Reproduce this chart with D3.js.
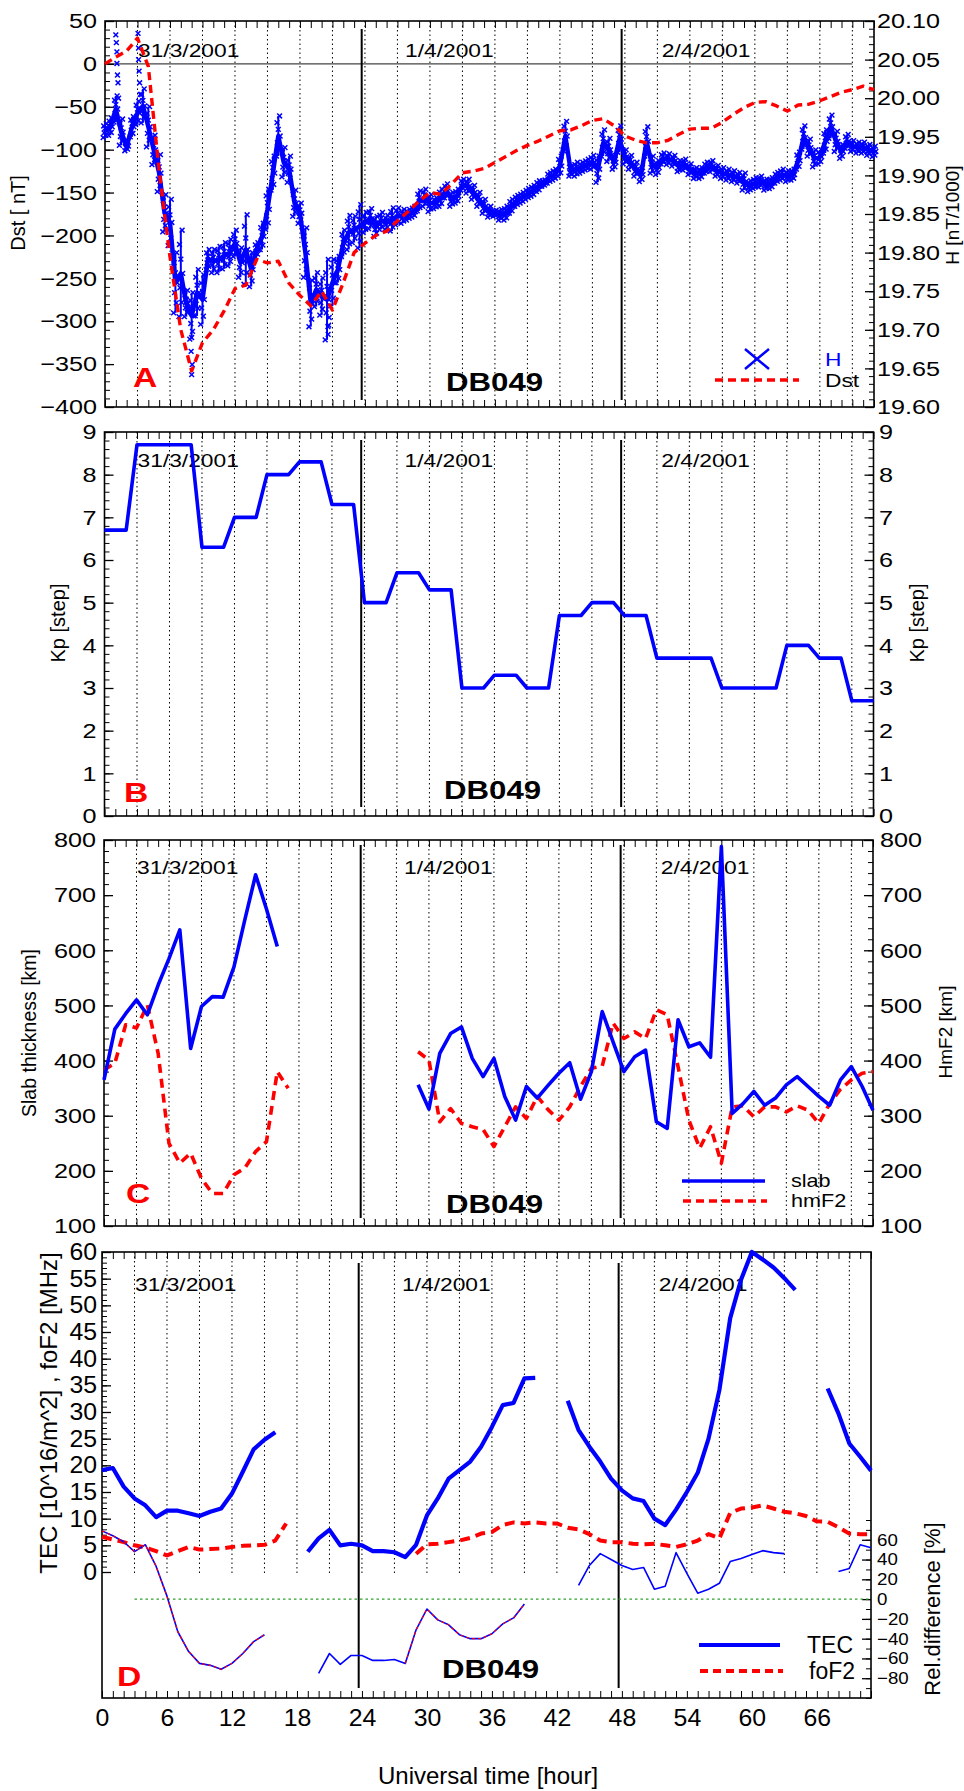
<!DOCTYPE html>
<html>
<head>
<meta charset="utf-8">
<script src="https://cdn.jsdelivr.net/npm/d3@7"></script>
<style>
  body { margin: 0; background: #fff; }
  svg { display: block; }
</style>
</head>
<body>
<div id="vis"></div>
<script>
// ---------- data ----------
const HOURS = d3.range(0, 72);            // hourly samples 0..71 UT
const H_HOURS = d3.range(0, 71.5, 0.5);   // H magnetometer samples every 0.5 h

const DST = [0, 8, 15, 30, -3, -125, -225, -310, -358, -325, -310, -288, -262, -258, -228, -232,
  -230, -256, -270, -282, -265, -287, -255, -220, -209, -200, -195, -183, -172, -160, -150, -152,
  -140, -127, -125, -122, -115, -108, -101, -95, -90, -84, -78, -77, -72, -66, -64, -72,
  -84, -89, -92, -92, -89, -82, -76, -75, -75, -68, -59, -51, -45, -44, -49, -55,
  -48, -47, -43, -38, -33, -30, -26, -30];

const H_MID = [
  19.958, 19.963, 19.986, 19.956, 19.938, 19.963, 19.981, 19.990, 19.963, 19.933,
  19.903, 19.851, 19.839, 19.761, 19.773, 19.734, 19.718, 19.748, 19.739, 19.791,
  19.789, 19.791, 19.796, 19.800, 19.812, 19.787, 19.804, 19.778, 19.804, 19.821,
  19.856, 19.903, 19.951, 19.917, 19.908, 19.864, 19.851, 19.800, 19.734, 19.752,
  19.743, 19.739, 19.761, 19.778, 19.812, 19.826, 19.830, 19.834, 19.839, 19.844,
  19.834, 19.841, 19.839, 19.843, 19.847, 19.847, 19.849, 19.853, 19.867, 19.871,
  19.864, 19.864, 19.871, 19.880, 19.869, 19.873, 19.888, 19.886, 19.878, 19.869,
  19.860, 19.853, 19.851, 19.849, 19.851, 19.860, 19.867, 19.871, 19.876, 19.880,
  19.886, 19.890, 19.897, 19.901, 19.912, 19.951, 19.906, 19.908, 19.910, 19.914,
  19.917, 19.908, 19.942, 19.933, 19.917, 19.947, 19.924, 19.917, 19.908, 19.901,
  19.944, 19.914, 19.910, 19.922, 19.921, 19.919, 19.912, 19.914, 19.908, 19.903,
  19.903, 19.910, 19.912, 19.906, 19.903, 19.901, 19.899, 19.897, 19.892, 19.886,
  19.890, 19.892, 19.888, 19.890, 19.897, 19.901, 19.899, 19.901, 19.919, 19.949,
  19.936, 19.922, 19.924, 19.944, 19.963, 19.944, 19.931, 19.944, 19.938, 19.936,
  19.936, 19.933, 19.931];

// half width of the H scatter band at each sample
const H_SPREAD = [
  0.009, 0.011, 0.017, 0.017, 0.006, 0.013, 0.015, 0.022, 0.026, 0.019,
  0.024, 0.024, 0.030, 0.039, 0.056, 0.017, 0.030, 0.030, 0.032, 0.013,
  0.015, 0.017, 0.017, 0.017, 0.017, 0.019, 0.045, 0.022, 0.009, 0.017,
  0.026, 0.022, 0.026, 0.019, 0.017, 0.017, 0.013, 0.032, 0.030, 0.022,
  0.024, 0.052, 0.030, 0.017, 0.017, 0.022, 0.017, 0.028, 0.013, 0.013,
  0.013, 0.011, 0.009, 0.015, 0.011, 0.009, 0.007, 0.007, 0.013, 0.011,
  0.011, 0.007, 0.011, 0.009, 0.009, 0.009, 0.007, 0.009, 0.009, 0.009,
  0.009, 0.007, 0.004, 0.007, 0.009, 0.009, 0.007, 0.007, 0.007, 0.007,
  0.007, 0.004, 0.007, 0.007, 0.013, 0.019, 0.007, 0.009, 0.007, 0.007,
  0.009, 0.017, 0.017, 0.015, 0.009, 0.017, 0.009, 0.009, 0.009, 0.009,
  0.019, 0.011, 0.009, 0.007, 0.007, 0.007, 0.007, 0.007, 0.007, 0.007,
  0.007, 0.007, 0.007, 0.007, 0.007, 0.007, 0.007, 0.007, 0.011, 0.007,
  0.007, 0.007, 0.007, 0.007, 0.007, 0.007, 0.007, 0.007, 0.011, 0.015,
  0.011, 0.011, 0.009, 0.015, 0.015, 0.013, 0.009, 0.009, 0.007, 0.007,
  0.007, 0.007, 0.007];

// isolated H points outside the band [hour, H]
const H_SPIKES = [[1.0, 20.082], [1.05, 20.072], [1.1, 20.06], [1.1, 20.045], [1.15, 20.03],
  [1.2, 20.02], [1.25, 20.0], [3.05, 20.084], [3.1, 20.065], [3.1, 20.05], [3.15, 20.035],
  [3.2, 20.02], [3.25, 20.005], [8.0, 19.642], [8.05, 19.655], [7.95, 19.672], [8.0, 19.69],
  [20.6, 19.694], [20.65, 19.706], [20.7, 19.716]];

// Kp, one value per 3-hour interval
const KP_3H = [6.7, 8.7, 8.7, 6.3, 7.0, 8.0, 8.3, 7.3, 5.0, 5.7, 5.3, 3.0,
  3.3, 3.0, 4.7, 5.0, 4.7, 3.7, 3.7, 3.0, 3.0, 4.0, 3.7, 2.7];

const SLAB = [365, 457, 485, 510, 483, 537, 585, 637, 422, 498, 516, 515, 570, 655, 737, 675,
  607, null, null, null, null, null, null, null, null, null, null, null, null, 356, 312, 413,
  449, 461, 404, 371, 404, 335, 292, 353, 332, 355, 377, 396, 330, 380, 489, 434,
  380, 407, 419, 289, 277, 474, 425, 432, 406, 788, 304, 322, 344, 319, 332, 356,
  371, 353, 335, 319, 365, 389, 353, 310];

const HMF2 = [383, 395, 465, 459, 501, 413, 250, 214, 232, 186, 159, 159, 193, 205, 235, 253,
  380, 350, null, null, null, null, null, null, null, null, null, null, null, 416, 401, 289,
  313, 286, 280, 275, 244, 280, 316, 295, 335, 311, 292, 316, 353, 386, 390, 468,
  440, 452, 440, 492, 483, 389, 292, 241, 280, 214, 316, 318, 298, 316, 316, 307,
  318, 310, 286, 322, 348, 365, 377, 380];

const TEC = [19.1, 19.5, 16.0, 13.8, 12.5, 10.3, 11.5, 11.5, 11.0, 10.5, 11.3, 11.9, 14.7, 18.8, 23.0, 24.8,
  26.2, null, null, 3.8, 6.3, 7.9, 5.0, 5.3, 5.0, 3.9, 3.9, 3.7, 2.8, 5.1, 10.6, 13.8,
  17.5, 19.1, 20.7, 23.5, 27.2, 31.3, 31.7, 36.3, 36.4, null, null, 32.1, 26.6, 23.5, 20.7, 17.5,
  15.3, 13.8, 13.3, 10.0, 8.8, 11.7, 15.0, 18.6, 25.0, 34.1, 47.6, 54.8, 60.0, 58.6, 57.1, 55.1,
  52.9, null, null, 34.4, 29.7, 24.1, 21.6, 19.0];

const FOF2 = [6.6, 6.1, 5.6, 5.0, 4.6, 3.9, 3.1, 3.9, 4.7, 4.2, 4.3, 4.4, 4.7, 4.9, 5.0, 5.1,
  5.9, 9.1, null, null, null, null, null, null, null, null, null, null, null, 3.4, 5.2, 5.3,
  5.6, 5.9, 6.4, 7.2, 7.5, 8.8, 9.3, 9.1, 9.3, 9.1, 9.1, 8.3, 8.0, 7.1, 5.9, 5.6,
  5.6, 5.3, 5.2, 5.3, 5.0, 4.7, 5.2, 5.9, 7.1, 6.3, 11.1, 11.9, 12.1, 12.5, 11.9, 11.3,
  11.0, 10.5, 9.5, 9.4, 8.4, 7.2, 7.1, 7.1];

const REL_TEC = [69, 64, 58, 48, 55, 33, 3, -33, -53, -65, -67, -71, -65, -55, -43, -36,
  null, null, null, null, -75, -55, -66, -57, -57, -62, -62, -61, -65, -31, -10, -21,
  -26, -36, -40, -40, -35, -25, -19, -5, null, null, null, null, 14, 34, 46, 40,
  34, 30, 32, 10, 13, 47, 26, 6, 10, 16, 38, 41, 45, 49, 47, 46,
  null, null, null, null, 28, 31, 55, 52];

const REL_FOF2 = [69, 64, 58, 48, 55, 33, 3, -33, -53, -65, -67, -71, -65, -55, -43, -36,
  null, null, null, null, null, null, null, null, null, null, null, null, -65, -31, -10, -21,
  -26, -36, -40, -40, -35, -25, -19, -5, null, null, null, null, null, null, null, null,
  null, null, null, null, null, null, null, null, null, null, null, null, null, null, null, null,
  null, null, null, null, null, null, null, null];

const DATES = ["31/3/2001", "1/4/2001", "2/4/2001"];
const DATE_HOURS = [3.05, 27.7, 51.4];
const DAY_LINES = [23.7, 47.7];
const GRID_HOURS = d3.range(3, 71, 3);
const X_LABELS = d3.range(0, 67, 6);

// ---------- layout ----------
const FONT = "'Liberation Sans', Arial, Helvetica, sans-serif";
const BLUE = "#0000ff", RED = "#ff0000";
const PANELS = {
  A: {top: 21, bottom: 407, left: 105, right: 874},
  B: {top: 432, bottom: 816, left: 104.5, right: 873.5},
  C: {top: 840, bottom: 1226, left: 104, right: 873},
  D: {top: 1252, bottom: 1698, left: 102, right: 871}
};

const svg = d3.select("#vis").append("svg")
  .attr("width", 964).attr("height", 1791)
  .attr("font-family", FONT);

function txt(x, y, str, size, sx, opts = {}) {
  return svg.append("text")
    .attr("transform", `translate(${x},${y}) scale(${sx},1)`)
    .attr("font-size", size)
    .attr("font-weight", opts.bold ? "bold" : null)
    .attr("fill", opts.fill || "#000")
    .attr("text-anchor", opts.anchor || "start")
    .text(str);
}

function vtxt(x, y, str, size) {
  svg.append("text")
    .attr("transform", `translate(${x},${y}) rotate(-90)`)
    .attr("font-size", size)
    .attr("text-anchor", "middle")
    .text(str);
}

function yAxis(scale, x, side, major, minor, fmt, size, sx, pad) {
  const make = side === "left" ? d3.axisLeft : d3.axisRight;
  const gMin = svg.append("g").attr("transform", `translate(${x},0)`)
    .call(make(scale).tickValues(minor).tickSize(-5).tickFormat(""));
  gMin.select(".domain").remove();
  const g = svg.append("g").attr("transform", `translate(${x},0)`)
    .call(make(scale).tickValues(major).tickSize(-9).tickPadding(pad).tickFormat(fmt));
  g.select(".domain").remove();
  g.selectAll("line").attr("stroke-width", 1.3);
  g.selectAll("text").attr("font-size", size).attr("font-family", FONT)
    .attr("transform", `scale(${sx},1)`);
}

function frame(p, x, dotBottom, dayTop, dayBottom, dateY) {
  svg.append("g").selectAll("line").data(GRID_HOURS).enter().append("line")
    .attr("x1", d => x(d)).attr("x2", d => x(d))
    .attr("y1", p.top).attr("y2", dotBottom)
    .attr("stroke", "#000").attr("stroke-width", 1).attr("stroke-dasharray", "1.5,3");
  svg.append("g").selectAll("line").data(DAY_LINES).enter().append("line")
    .attr("x1", d => x(d)).attr("x2", d => x(d))
    .attr("y1", dayTop).attr("y2", dayBottom)
    .attr("stroke", "#000").attr("stroke-width", 2);
  const gb = svg.append("g").attr("transform", `translate(0,${p.bottom})`)
    .call(d3.axisBottom(x).tickValues(HOURS).tickSize(-7).tickFormat(""));
  gb.select(".domain").remove();
  const gt = svg.append("g").attr("transform", `translate(0,${p.top})`)
    .call(d3.axisTop(x).tickValues(HOURS).tickSize(-7).tickFormat(""));
  gt.select(".domain").remove();
  svg.append("rect")
    .attr("x", p.left).attr("y", p.top)
    .attr("width", p.right - p.left).attr("height", p.bottom - p.top)
    .attr("fill", "none").attr("stroke", "#000").attr("stroke-width", 1.6);
  DATES.forEach((d, i) => txt(x(DATE_HOURS[i]), dateY, d, 19, 1.2));
}

function panelTags(letter, lx, ly, dbx, dby) {
  txt(lx, ly, letter, 28, 1.2, {bold: true, fill: RED});
  txt(dbx, dby, "DB049", 26, 1.2, {bold: true});
}

function plotLine(x, y, values, color, width, dash) {
  const line = d3.line()
    .defined(d => d != null)
    .x((d, i) => x(HOURS[i]))
    .y(d => y(d));
  svg.append("path").datum(values)
    .attr("d", line)
    .attr("fill", "none").attr("stroke", color)
    .attr("stroke-width", width)
    .attr("stroke-dasharray", dash || null)
    .attr("stroke-linejoin", "round");
}

const crossPath = s => `M${-s},${-s}L${s},${s}M${-s},${s}L${s},${-s}`;

// ---------- Panel A: Dst and H ----------
{
  const p = PANELS.A;
  const x = d3.scaleLinear().domain([0, 71]).range([p.left, p.right]);
  const yDst = d3.scaleLinear().domain([-400, 50]).range([p.bottom, p.top]);
  const yH = d3.scaleLinear().domain([19.60, 20.10]).range([p.bottom, p.top]);

  svg.append("line")
    .attr("x1", x(0)).attr("x2", x(69))
    .attr("y1", yDst(0)).attr("y2", yDst(0))
    .attr("stroke", "#444").attr("stroke-width", 1.2);

  frame(p, x, p.bottom, 29, 400, 57);

  yAxis(yDst, p.left, "left", d3.range(-400, 51, 50), d3.range(-400, 51, 10), d3.format("d"), 21, 1.2, 6.7);
  yAxis(yH, p.right, "right", d3.range(0, 11).map(i => 19.6 + i * 0.05),
    d3.range(0, 51).map(i => 19.6 + i * 0.01), d3.format(".2f"), 21, 1.2, 2.5);

  // H scatter band: markers spread over each sample's band
  const gH = svg.append("g");
  gH.selectAll("line").data(H_MID).enter().append("line")
    .attr("x1", (d, i) => x(H_HOURS[i])).attr("x2", (d, i) => x(H_HOURS[i]))
    .attr("y1", (d, i) => yH(d + H_SPREAD[i])).attr("y2", (d, i) => yH(d - H_SPREAD[i]))
    .attr("stroke", BLUE).attr("stroke-width", 2);
  gH.append("path").datum(H_MID)
    .attr("d", d3.line().x((d, i) => x(H_HOURS[i])).y(d => yH(d)))
    .attr("fill", "none").attr("stroke", BLUE).attr("stroke-width", 4.5)
    .attr("stroke-linejoin", "round");
  const levels = [-1, -0.67, -0.33, 0, 0.33, 0.67, 1];
  const shifts = [-0.17, 0.08, -0.08, 0.17, 0, -0.12, 0.12];
  const marks = [];
  H_MID.forEach((d, i) => {
    levels.forEach((k, j) => marks.push([H_HOURS[i] + shifts[j], d + k * H_SPREAD[i]]));
  });
  H_SPIKES.forEach(s => marks.push(s));
  gH.selectAll("path.mk").data(marks).enter().append("path").attr("class", "mk")
    .attr("transform", d => `translate(${x(d[0])},${yH(d[1])})`)
    .attr("d", crossPath(2.4))
    .attr("stroke", BLUE).attr("stroke-width", 1.5);

  plotLine(x, yDst, DST, RED, 3.4, "8,5");

  vtxt(25, 213, "Dst [ nT]", 20);
  vtxt(959, 215, "H [nT/1000]", 19);

  // legend
  svg.append("path").attr("transform", "translate(757,359)")
    .attr("d", "M-12,-10L12,10M-12,10L12,-10")
    .attr("stroke", BLUE).attr("stroke-width", 2.5);
  txt(825, 366, "H", 19, 1.2, {fill: BLUE});
  svg.append("line").attr("x1", 715).attr("x2", 799).attr("y1", 380).attr("y2", 380)
    .attr("stroke", RED).attr("stroke-width", 3.3).attr("stroke-dasharray", "8,5");
  txt(825, 387, "Dst", 19, 1.2);

  panelTags("A", 133, 387, 446, 391);
}

// ---------- Panel B: Kp ----------
{
  const p = PANELS.B;
  const x = d3.scaleLinear().domain([0, 71]).range([p.left, p.right]);
  const y = d3.scaleLinear().domain([0, 9]).range([p.bottom, p.top]);
  frame(p, x, p.bottom, 440, 807, 467);
  const ticks = d3.range(0, 10), minor = d3.range(0, 46).map(i => i * 0.2);
  yAxis(y, p.left, "left", ticks, minor, d3.format("d"), 21, 1.2, 6.7);
  yAxis(y, p.right, "right", ticks, minor, d3.format("d"), 21, 1.2, 4.6);

  const pts = [];
  KP_3H.forEach((v, k) => {
    pts.push([3 * k, v]);
    pts.push([Math.min(3 * k + 2, 71), v]);
  });
  svg.append("path").datum(pts)
    .attr("d", d3.line().x(d => x(d[0])).y(d => y(d[1])))
    .attr("fill", "none").attr("stroke", BLUE).attr("stroke-width", 3.6)
    .attr("stroke-linejoin", "round");

  vtxt(65, 623, "Kp [step]", 20);
  vtxt(924, 623, "Kp [step]", 20);
  panelTags("B", 124, 802, 444, 799);
}

// ---------- Panel C: slab thickness and hmF2 ----------
{
  const p = PANELS.C;
  const x = d3.scaleLinear().domain([0, 71]).range([p.left, p.right]);
  const y = d3.scaleLinear().domain([100, 800]).range([p.bottom, p.top]);
  frame(p, x, p.bottom, 845, 1218, 874);
  const ticks = d3.range(100, 801, 100), minor = d3.range(100, 801, 20);
  yAxis(y, p.left, "left", ticks, minor, d3.format("d"), 21, 1.2, 6.7);
  yAxis(y, p.right, "right", ticks, minor, d3.format("d"), 21, 1.2, 5.8);

  plotLine(x, y, HMF2, RED, 3.6, "9,6");
  plotLine(x, y, SLAB, BLUE, 3.6);

  vtxt(36, 1033, "Slab thickness [km]", 19.5);
  vtxt(952, 1032, "HmF2 [km]", 19);

  svg.append("line").attr("x1", 682).attr("x2", 765).attr("y1", 1181).attr("y2", 1181)
    .attr("stroke", BLUE).attr("stroke-width", 3.3);
  txt(791, 1187, "slab", 18, 1.2);
  svg.append("line").attr("x1", 683).attr("x2", 767).attr("y1", 1201).attr("y2", 1201)
    .attr("stroke", RED).attr("stroke-width", 3.3).attr("stroke-dasharray", "8,5");
  txt(791, 1207, "hmF2", 18, 1.2);
  panelTags("C", 126, 1203, 446, 1213);
}

// ---------- Panel D: TEC, foF2 and relative difference ----------
{
  const p = PANELS.D;
  const x = d3.scaleLinear().domain([0, 71]).range([p.left, p.right]);
  const y = d3.scaleLinear().domain([0, 60]).range([1572, p.top]);
  const yRel = d3.scaleLinear().domain([-100, 80]).range([p.bottom, 1520]);
  frame(p, x, 1574, 1263, 1688, 1291);

  yAxis(y, p.left, "left", d3.range(0, 61, 5), d3.range(0, 61, 1), d3.format("d"), 23, 1.08, 4.6);
  yAxis(yRel, p.right, "right", d3.range(-80, 61, 20), d3.range(-100, 81, 10), d3.format("d"), 17, 1.1, 5.5);

  const gx = svg.append("g").attr("transform", `translate(0,${p.bottom})`)
    .call(d3.axisBottom(x).tickValues(X_LABELS).tickSize(0).tickPadding(12).tickFormat(d3.format("d")));
  gx.select(".domain").remove();
  gx.selectAll("text").attr("font-size", 23).attr("font-family", FONT)
    .attr("transform", "scale(1.08,1)");

  svg.append("line")
    .attr("x1", x(3)).attr("x2", p.right)
    .attr("y1", yRel(0)).attr("y2", yRel(0))
    .attr("stroke", "#2ca02c").attr("stroke-width", 1.2).attr("stroke-dasharray", "2.5,3");

  plotLine(x, y, FOF2, RED, 4, "10,6");
  plotLine(x, y, TEC, BLUE, 4.2);
  plotLine(x, yRel, REL_TEC, BLUE, 1.6);
  plotLine(x, yRel, REL_FOF2, RED, 1.1, "3,3");

  vtxt(57, 1413, "TEC [10^16/m^2] , foF2 [MHz]", 24);
  vtxt(940, 1609, "Rel.difference [%]", 22);
  txt(488, 1784, "Universal time [hour]", 24, 1, {anchor: "middle"});

  svg.append("line").attr("x1", 699).attr("x2", 780).attr("y1", 1645).attr("y2", 1645)
    .attr("stroke", BLUE).attr("stroke-width", 4.2);
  txt(807, 1653, "TEC", 23, 1);
  svg.append("line").attr("x1", 700).attr("x2", 783).attr("y1", 1671).attr("y2", 1671)
    .attr("stroke", RED).attr("stroke-width", 4).attr("stroke-dasharray", "8,5");
  txt(809, 1679, "foF2", 23, 1);
  panelTags("D", 117, 1686, 442, 1678);
}
</script>
</body>
</html>
